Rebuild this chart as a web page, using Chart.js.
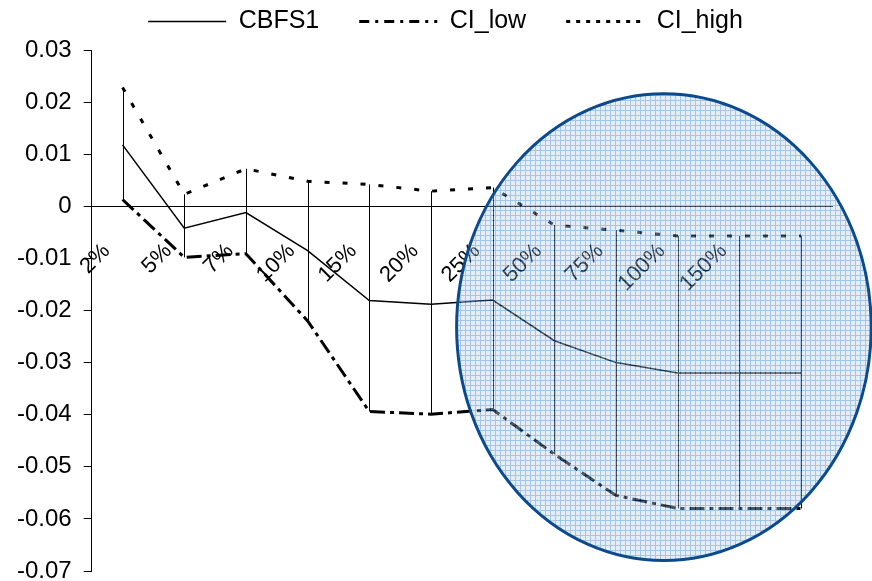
<!DOCTYPE html>
<html>
<head>
<meta charset="utf-8">
<title>CBFS1 with confidence interval</title>
<script src="https://cdn.jsdelivr.net/npm/chart.js@4.4.1/dist/chart.umd.min.js"></script>
<style>
  html, body { margin: 0; padding: 0; background: #fff; }
  #chart { display: block; }
</style>
</head>
<body>
<canvas id="chart" width="872" height="581"></canvas>
<script>
// Categories and series
const categories = ['2%', '5%', '7%', '10%', '15%', '20%', '25%', '50%', '75%', '100%', '150%', ''];
const cbfs1  = [0.0118, -0.0042, -0.0012, -0.0085, -0.0181, -0.0188, -0.0180, -0.0258, -0.0300, -0.0320, -0.0320, -0.0320];
const ciLow  = [0.0013, -0.0098, -0.0091, -0.0220, -0.0394, -0.0399, -0.0390, -0.0476, -0.0555, -0.0580, -0.0580, -0.0580];
const ciHigh = [0.0228, 0.0023, 0.0072, 0.0048, 0.0042, 0.0029, 0.0036, -0.0036, -0.0046, -0.0057, -0.0057, -0.0057];

// Value axis range
const yMin = -0.07;
const yMax = 0.03;
const yStep = 0.01;

// Highlight ellipse, in axis units (category index, value)
const highlight = { cx: 8.775, cy: -0.0232, rx: 3.36, ry: 0.0448 };

Chart.defaults.font.family = "'Liberation Sans', Arial, sans-serif";
Chart.defaults.color = '#000';

// legend line looks (differ a bit from the plotted lines)
const legendLook = [
  { lineWidth: 1.5, lineDash: [] },
  { lineWidth: 3, lineDash: [10, 6, 3, 6] },
  { lineWidth: 3, lineDash: [4, 6] }
];

// fine blue grid texture, meant to be laid on with low alpha
function gridPattern(ctx) {
  const c = document.createElement('canvas');
  c.width = 5;
  c.height = 5;
  const p = c.getContext('2d');
  p.fillStyle = 'rgb(190, 212, 236)';
  p.fillRect(0, 0, 5, 5);
  p.fillStyle = 'rgb(30, 110, 190)';
  p.fillRect(0, 0, 1, 5);
  p.fillRect(0, 0, 5, 1);
  return ctx.createPattern(c, 'repeat');
}

// legend sits a little higher and further right than Chart.js would put it
const legendNudge = {
  id: 'legendNudge',
  afterLayout(chart) {
    const lg = chart.legend;
    if (lg) {
      lg.top -= 6;
      lg.bottom -= 6;
      lg.left += 7;
      lg.right += 7;
    }
  }
};

// vertical high-low lines between CI_high and CI_low
const hiLoLines = {
  id: 'hiLoLines',
  afterDatasetsDraw(chart) {
    const { ctx, scales: { x, y } } = chart;
    ctx.save();
    ctx.strokeStyle = '#000';
    ctx.lineWidth = 1;
    ciHigh.forEach((hi, i) => {
      const px = Math.round(x.getPixelForValue(i)) + 0.5;
      ctx.beginPath();
      ctx.moveTo(px, y.getPixelForValue(hi));
      ctx.lineTo(px, y.getPixelForValue(ciLow[i]));
      ctx.stroke();
    });
    ctx.restore();
  }
};

// shaded ellipse drawn on top of everything
const highlightEllipse = {
  id: 'highlightEllipse',
  afterDraw(chart) {
    const { ctx, scales: { x, y } } = chart;
    const cx = x.getPixelForValue(highlight.cx);
    const cy = y.getPixelForValue(highlight.cy);
    const rx = Math.abs(x.getPixelForValue(highlight.cx + highlight.rx) - cx);
    const ry = Math.abs(y.getPixelForValue(highlight.cy + highlight.ry) - cy);
    ctx.save();
    ctx.beginPath();
    ctx.ellipse(cx, cy, rx, ry, 0, 0, Math.PI * 2);
    ctx.globalAlpha = 0.4;
    ctx.fillStyle = gridPattern(ctx);
    ctx.fill();
    ctx.globalAlpha = 1;
    ctx.strokeStyle = '#0b4a8c';
    ctx.lineWidth = 3;
    ctx.stroke();
    ctx.restore();
  }
};

new Chart(document.getElementById('chart'), {
  type: 'line',
  data: {
    labels: categories,
    datasets: [
      {
        label: 'CBFS1',
        data: cbfs1,
        borderColor: '#000',
        borderWidth: 1.5
      },
      {
        label: 'CI_low',
        data: ciLow,
        borderColor: '#000',
        borderWidth: 3,
        borderDash: [15, 5, 4, 5]
      },
      {
        label: 'CI_high',
        data: ciHigh,
        borderColor: '#000',
        borderWidth: 3,
        borderDash: [5, 13]
      }
    ]
  },
  options: {
    responsive: false,
    animation: false,
    devicePixelRatio: 1,
    elements: {
      point: { radius: 0, hoverRadius: 0 },
      line: { tension: 0, fill: false }
    },
    layout: {
      padding: { top: -25, left: 5, right: 0, bottom: 10 }
    },
    plugins: {
      tooltip: { enabled: false },
      legend: {
        position: 'top',
        labels: {
          font: { size: 25 },
          color: '#000',
          padding: 40,
          usePointStyle: true,
          pointStyleWidth: 78,
          generateLabels: chart => chart.data.datasets.map((ds, i) => ({
            text: ds.label,
            fillStyle: 'rgba(0,0,0,0)',
            strokeStyle: '#000',
            lineWidth: legendLook[i].lineWidth,
            lineDash: legendLook[i].lineDash,
            pointStyle: 'line',
            hidden: false,
            datasetIndex: i,
            fontColor: '#000'
          }))
        }
      }
    },
    scales: {
      x: {
        type: 'category',
        position: { y: 0 },
        offset: true,
        grid: { display: false, drawTicks: false },
        border: { display: true, color: '#000', width: 1 },
        ticks: {
          autoSkip: false,
          minRotation: 45,
          maxRotation: 45,
          padding: 32,
          labelOffset: -16,
          font: { size: 22 },
          color: '#000'
        },
        afterFit(scale) {
          scale.paddingLeft = 0;
          scale.paddingRight = 40;
        }
      },
      y: {
        min: yMin,
        max: yMax,
        grid: {
          drawOnChartArea: false,
          drawTicks: true,
          tickLength: 8,
          color: '#000'
        },
        border: { display: true, color: '#000', width: 1 },
        ticks: {
          stepSize: yStep,
          padding: 12,
          font: { size: 24 },
          color: '#000',
          callback: v => {
            const r = Math.round(v * 100) / 100;
            return r === 0 ? '0' : String(r);
          }
        },
        afterFit(scale) {
          scale.paddingTop = 0;
          scale.paddingBottom = 0;
        }
      }
    }
  },
  plugins: [legendNudge, hiLoLines, highlightEllipse]
});
</script>
</body>
</html>
